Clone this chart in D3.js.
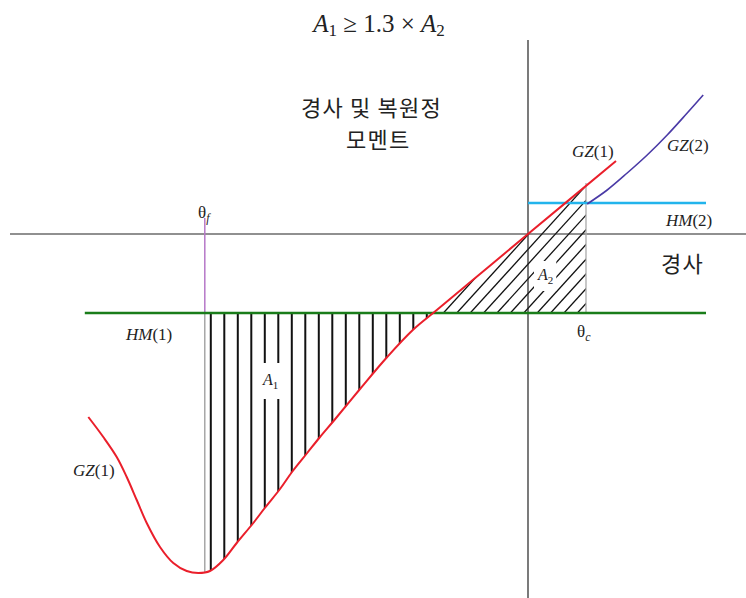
<!DOCTYPE html>
<html>
<head>
<meta charset="utf-8">
<script src="https://cdn.jsdelivr.net/npm/d3@7"></script>
<style>
  html, body { margin: 0; padding: 0; background: #fff; }
  svg { display: block; }
</style>
</head>
<body>
<svg id="chart" width="746" height="598"></svg>
<script>
// ---------- data (heel angle in degrees, moment in arbitrary units) ----------
const gz1Angle = [-54.96, -53.09, -51.41, -50.16, -48.91, -47.66, -46, -44.34, -42.66, -41.21, -39.75, -38.09, -36.41, -34.34, -32.9, -31, -29.5, -27.6, -26, -24.2, -21, -17.6, -14.4, -11.4, -6, 0, 11];
const gz1Value = [-1.83, -2.03, -2.23, -2.43, -2.66, -2.89, -3.13, -3.29, -3.37, -3.39, -3.37, -3.26, -3.09, -2.89, -2.74, -2.55, -2.38, -2.19, -2.03, -1.86, -1.55, -1.23, -0.96, -0.76, -0.40, 0, 0.73];
const gz2Angle = [7.4, 9.9, 12.4, 14.9, 17.4, 19.9, 21.9];
const gz2Value = [0.30, 0.44, 0.61, 0.79, 0.99, 1.21, 1.39];
const hm1Value = -0.79;
const hm1Extent = [-55.4, 22.25];
const hm2Value = 0.31;
const hm2Extent = [0, 22.25];
const thetaF = -40.4;
const thetaC = 7.25;
const xAxisExtent = [-64.75, 27.25];
const yAxisExtent = [1.94, -3.64];

// ---------- scales ----------
const W = 746, H = 598;
const x = d3.scaleLinear().domain([-64.75, 27.25]).range([10, 746]);
const y = d3.scaleLinear().domain([2.34, -3.64]).range([0, 598]);

const svg = d3.select("#chart");
const defs = svg.append("defs");

const gz1 = gz1Angle.map((a, i) => ({a, v: gz1Value[i]}));
const gz2 = gz2Angle.map((a, i) => ({a, v: gz2Value[i]}));

// crossing of GZ(1) with HM(1)
let cross = 0;
for (let i = 1; i < gz1.length; i++) {
  const p = gz1[i - 1], q = gz1[i];
  if (p.a > thetaF && (p.v - hm1Value) * (q.v - hm1Value) <= 0) {
    cross = p.a + (hm1Value - p.v) / (q.v - p.v) * (q.a - p.a);
    break;
  }
}

const curve = d3.curveCatmullRom.alpha(0.5);
const line = d3.line().x(d => x(d.a)).y(d => y(d.v)).curve(curve);
const area = d3.area().x(d => x(d.a)).y0(y(hm1Value)).y1(d => y(d.v)).curve(curve);

defs.append("clipPath").attr("id", "betweenClip")
  .append("path").attr("d", area(gz1));
defs.append("clipPath").attr("id", "a1Rect")
  .append("rect").attr("x", x(thetaF)).attr("y", 0)
  .attr("width", x(cross) - x(thetaF)).attr("height", H);
defs.append("clipPath").attr("id", "a2Rect")
  .append("rect").attr("x", x(cross)).attr("y", 0)
  .attr("width", x(thetaC) - x(cross)).attr("height", H);

// ---------- A1 vertical hatching ----------
const a1Step = 1.6875;
const a1Lines = d3.range(thetaF + 0.75, cross, a1Step);
svg.append("g").attr("clip-path", "url(#a1Rect)")
  .append("g").attr("clip-path", "url(#betweenClip)")
  .selectAll("line").data(a1Lines).join("line")
  .attr("x1", d => x(d)).attr("x2", d => x(d))
  .attr("y1", y(hm1Value)).attr("y2", H)
  .attr("stroke", "#111").attr("stroke-width", 2);

// ---------- A2 diagonal hatching ----------
const a2Step = 1.675;
const a2Lines = d3.range(thetaC - 1.075, cross - 30, -a2Step);
svg.append("g").attr("clip-path", "url(#a2Rect)")
  .append("g").attr("clip-path", "url(#betweenClip)")
  .selectAll("line").data(a2Lines).join("line")
  .attr("x1", d => x(d)).attr("y1", y(hm1Value))
  .attr("x2", d => x(d) + 200).attr("y2", y(hm1Value) - 220)
  .attr("stroke", "#111").attr("stroke-width", 1.3);

// ---------- axes ----------
svg.append("line")
  .attr("x1", x(xAxisExtent[0])).attr("x2", x(xAxisExtent[1]))
  .attr("y1", y(0)).attr("y2", y(0))
  .attr("stroke", "#222").attr("stroke-width", 1.2);
svg.append("line")
  .attr("x1", x(0)).attr("x2", x(0))
  .attr("y1", y(yAxisExtent[0])).attr("y2", y(yAxisExtent[1]))
  .attr("stroke", "#222").attr("stroke-width", 1.2);

// ---------- theta markers ----------
const gzMin = d3.min(gz1Value);
svg.append("line")
  .attr("x1", x(thetaF)).attr("x2", x(thetaF))
  .attr("y1", y(hm1Value)).attr("y2", y(gzMin))
  .attr("stroke", "#999").attr("stroke-width", 1.3);
svg.append("line")
  .attr("x1", x(thetaF)).attr("x2", x(thetaF))
  .attr("y1", y(0) - 16).attr("y2", y(hm1Value))
  .attr("stroke", "#b678c8").attr("stroke-width", 1.5);
svg.append("line")
  .attr("x1", x(thetaC)).attr("x2", x(thetaC))
  .attr("y1", y(0.51)).attr("y2", y(hm1Value))
  .attr("stroke", "#aaa").attr("stroke-width", 1.3);

// ---------- heeling moment lines ----------
svg.append("line")
  .attr("x1", x(hm1Extent[0])).attr("x2", x(hm1Extent[1]))
  .attr("y1", y(hm1Value)).attr("y2", y(hm1Value))
  .attr("stroke", "#1a7d1a").attr("stroke-width", 2.6);
svg.append("line")
  .attr("x1", x(hm2Extent[0])).attr("x2", x(hm2Extent[1]))
  .attr("y1", y(hm2Value)).attr("y2", y(hm2Value))
  .attr("stroke", "#22b4ec").attr("stroke-width", 2.6);

// ---------- GZ curves ----------
svg.append("path").attr("d", line(gz2))
  .attr("fill", "none").attr("stroke", "#4a3aa6").attr("stroke-width", 1.6);
svg.append("path").attr("d", line(gz1))
  .attr("fill", "none").attr("stroke", "#ea1f2b").attr("stroke-width", 2);

// ---------- text ----------
const serif = "'Liberation Serif', 'Times New Roman', serif";
const kr = "'Noto Sans CJK KR', sans-serif";

function mathLabel(px, py, parts, size, box) {
  const t = svg.append("text").attr("x", px).attr("y", py)
    .attr("font-family", serif).attr("font-size", size).attr("fill", "#222");
  parts.forEach(p => {
    const s = t.append("tspan").text(p.t);
    if (p.i) s.attr("font-style", "italic");
    if (p.s) s.attr("font-size", p.s);
    if (p.dy) s.attr("dy", p.dy);
  });
  if (box) {
    const b = t.node().getBBox();
    svg.insert("rect", () => t.node())
      .attr("x", b.x - box[0]).attr("y", b.y - box[1])
      .attr("width", b.width + 2 * box[0]).attr("height", b.height + 2 * box[1])
      .attr("fill", "#fff");
  }
  return t;
}

// title
mathLabel(379, 32, [
  {t: "A", i: true}, {t: "1", s: 17, dy: 4}, {t: " ≥ 1.3 × ", dy: -4},
  {t: "A", i: true}, {t: "2", s: 17, dy: 4}
], 25).attr("text-anchor", "middle");

function krText(px, py, str) {
  svg.append("text").attr("x", px).attr("y", py)
    .attr("font-family", kr).attr("font-size", 22).attr("letter-spacing", 1.2)
    .attr("fill", "#222").text(str);
}
krText(301, 116, "경사 및 복원정");
krText(346, 148, "모멘트");
krText(661, 272, "경사");

mathLabel(572, 157, [{t: "GZ", i: true}, {t: "(1)"}], 17);
mathLabel(667, 151, [{t: "GZ", i: true}, {t: "(2)"}], 17);
mathLabel(666, 226, [{t: "HM", i: true}, {t: "(2)"}], 17);
mathLabel(126, 340, [{t: "HM", i: true}, {t: "(1)"}], 17);
mathLabel(73, 476, [{t: "GZ", i: true}, {t: "(1)"}], 17);
mathLabel(198, 218, [{t: "θ"}, {t: "f", i: true, s: 12, dy: 4}], 17);
mathLabel(577, 337, [{t: "θ"}, {t: "c", i: true, s: 12, dy: 4}], 17);
mathLabel(263, 385, [{t: "A", i: true}, {t: "1", s: 11, dy: 4}], 16, [4, 8]);
mathLabel(538, 280, [{t: "A", i: true}, {t: "2", s: 11, dy: 4}], 16, [3, 5]);
</script>
</body>
</html>
